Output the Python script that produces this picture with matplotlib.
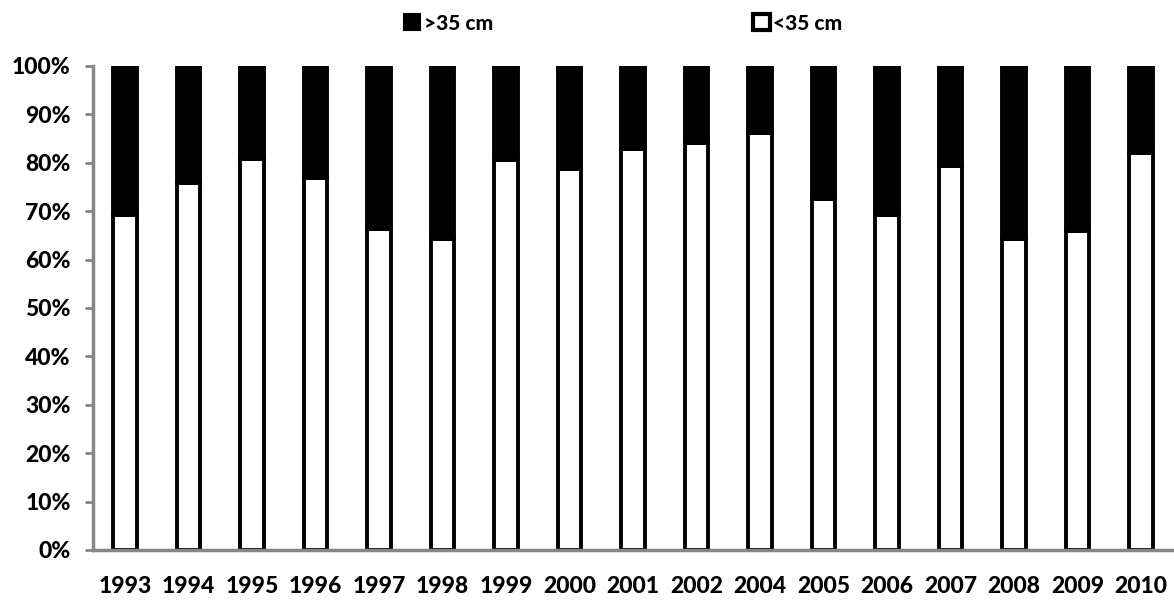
import matplotlib
matplotlib.use("Agg")
import matplotlib.pyplot as plt
from matplotlib.patches import Patch
import numpy as np

years = ["1993", "1994", "1995", "1996", "1997", "1998", "1999", "2000", "2001",
         "2002", "2004", "2005", "2006", "2007", "2008", "2009", "2010"]
under35 = [69.2, 75.8, 80.8, 76.8, 66.3, 64.3, 80.5, 78.8, 82.8,
           84.1, 86.1, 72.5, 69.2, 79.4, 64.3, 65.9, 82.1]
over35 = [100 - v for v in under35]
yticks = list(range(0, 101, 10))

plt.rcParams['font.family'] = ['Lato', 'DejaVu Sans']

fig = plt.figure(figsize=(11.74, 6.03), dpi=100)
ax = fig.add_axes([93/1174, 53/603, 1080/1174, 484/603])

x = np.arange(len(years))
w = 0.37
ax.bar(x, under35, width=w, color='white', edgecolor='black', linewidth=2.8, zorder=2)
ax.bar(x, over35, width=w, bottom=under35, color='black', edgecolor='black', linewidth=2.8, zorder=2)

ax.set_xlim(-0.5, len(years) - 0.5)
ax.set_ylim(0, 100)
ax.set_yticks(yticks)
ax.set_yticklabels([f"{t}%" for t in yticks], fontsize=16.5, fontweight='black')
ax.set_xticks(x)
ax.set_xticklabels(years, fontsize=16.5, fontweight='black')

for s in ['top', 'right']:
    ax.spines[s].set_visible(False)
for s in ['left', 'bottom']:
    ax.spines[s].set_color('#868686')
    ax.spines[s].set_linewidth(2.5)
    ax.spines[s].set_zorder(3)
ax.tick_params(axis='y', length=6, width=2, color='#868686', pad=10)
ax.tick_params(axis='x', length=0, pad=19)

handles = [Patch(facecolor='black', edgecolor='black', linewidth=1.5),
           Patch(facecolor='white', edgecolor='black', linewidth=3)]
fig.legend(handles, [">35 cm", "<35 cm"], loc='center', bbox_to_anchor=(623/1174, 1 - 23/603),
           ncol=2, frameon=False, prop={'weight': 'black', 'size': 15},
           handlelength=0.8, handleheight=0.8, handletextpad=0.15, columnspacing=12.5)

fig.savefig("out.png", dpi=100)
